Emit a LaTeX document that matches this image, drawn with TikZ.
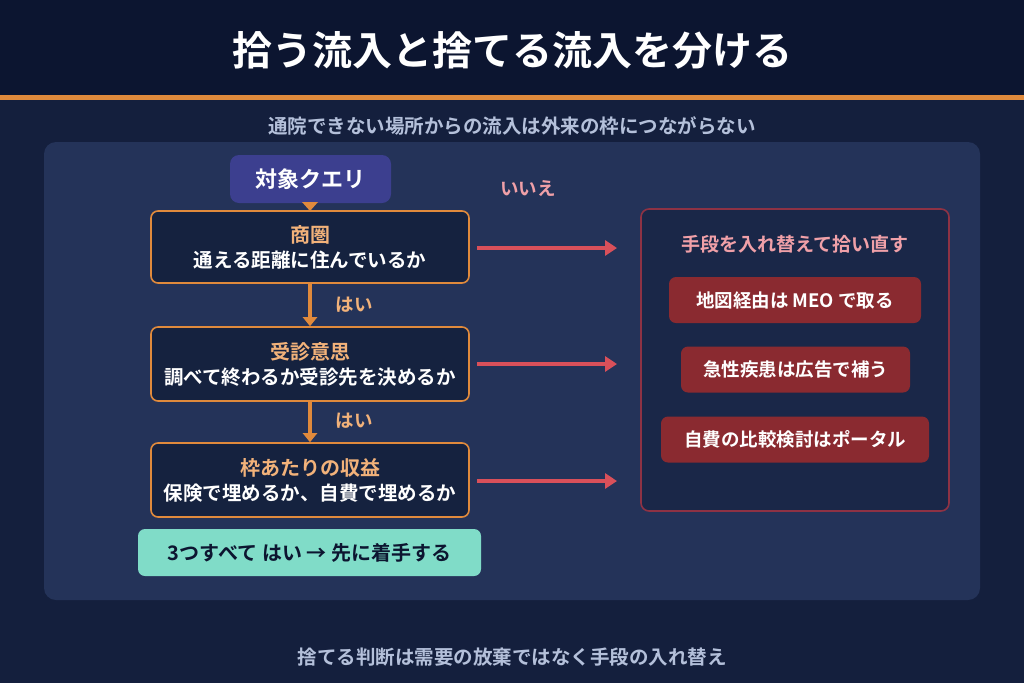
\documentclass[tikz,border=0pt]{standalone}
\usepackage{fontspec}
\setmainfont{Noto Sans CJK JP}[BoldFont={* Bold}]
\usetikzlibrary{arrows.meta}
\definecolor{bgtop}{HTML}{0C1530}
\definecolor{bgmain}{HTML}{141F3D}
\definecolor{panel}{HTML}{243359}
\definecolor{boxf}{HTML}{15223F}
\definecolor{orng}{HTML}{E08A3C}
\definecolor{ornt}{HTML}{F2B27A}
\definecolor{qry}{HTML}{3C3F8F}
\definecolor{redb}{HTML}{8A2A30}
\definecolor{redl}{HTML}{D9505A}
\definecolor{pink}{HTML}{F0A0A8}
\definecolor{grn}{HTML}{80DCC8}
\definecolor{sub}{HTML}{B4C0DA}
\definecolor{rbord}{HTML}{8E3244}
\begin{document}
\begin{tikzpicture}[x=1pt,y=-1pt,
 stepbox/.style={draw=orng,line width=1.6pt,fill=boxf,rounded corners=7pt,minimum width=318pt,minimum height=72pt,align=center,text=white,font=\fontsize{19.5}{25}\selectfont\bfseries},
 btn/.style={fill=redb,rounded corners=7pt,minimum height=46pt,text=white,font=\fontsize{18.5}{22}\selectfont\bfseries},
 oarr/.style={orng,line width=4pt,-{Triangle[length=9pt,width=14pt]}},
 rarr/.style={redl,line width=4pt,-{Triangle[length=12pt,width=15pt]}},
 lbl/.style={font=\fontsize{18.5}{22}\selectfont\bfseries}]
\fill[bgmain] (0,0) rectangle (1024,683);
\fill[bgtop] (0,0) rectangle (1024,95);
\fill[orng] (0,95) rectangle (1024,100);
\node[text=white,font=\fontsize{40}{44}\selectfont\bfseries] (title) at (512,50) {拾う流入と捨てる流入を分ける};
\node[text=sub,font=\fontsize{19.5}{24}\selectfont\bfseries] (subt) at (512,126) {通院できない場所からの流入は外来の枠につながらない};
\fill[panel,rounded corners=12pt] (44,142) rectangle (980,600);
\node[fill=qry,rounded corners=9pt,minimum width=161pt,minimum height=48pt,text=white,font=\fontsize{22}{24}\selectfont\bfseries] (q) at (310.5,179) {対象クエリ};
\node[stepbox] (s1) at (310,247) {{\color{ornt}\fontsize{20}{25}\selectfont 商圏}\\通える距離に住んでいるか};
\node[stepbox,minimum height=74pt] (s2) at (310,364) {{\color{ornt}\fontsize{20}{25}\selectfont 受診意思}\\調べて終わるか受診先を決めるか};
\node[stepbox,minimum height=74pt] (s3) at (310,480) {{\color{ornt}\fontsize{20}{25}\selectfont 枠あたりの収益}\\保険で埋めるか、自費で埋めるか};
\node[fill=grn,rounded corners=7pt,minimum width=343pt,minimum height=47pt,text=bgtop,font=\fontsize{20}{22}\selectfont\bfseries] (g) at (309.5,552.5) {3つすべて はい → 先に着手する};
\fill[orng] (302,202) -- (318,202) -- (310,211) -- cycle;
\draw[oarr] (s1.south) -- (s2.north);
\draw[oarr] (s2.south) -- (s3.north);
\node[lbl,text=ornt] (h1) at (354,305) {はい};
\node[lbl,text=ornt] (h2) at (354,421) {はい};
\node[lbl,text=pink] (no) at (528,189) {いいえ};
\draw[rbord,line width=1.6pt,fill=bgmain!60!panel,rounded corners=8pt] (641,209) rectangle (949,511);
\node[text=pink,font=\fontsize{19}{22}\selectfont\bfseries] (rt) at (795,244) {手段を入れ替えて拾い直す};
\node[btn,minimum width=252pt] (b1) at (795,300) {地図経由は MEO で取る};
\node[btn,minimum width=229pt] (b2) at (795.5,369.5) {急性疾患は広告で補う};
\node[btn,minimum width=268pt] (b3) at (795,439.5) {自費の比較検討はポータル};
\coordinate (e1) at (617,248); \coordinate (e2) at (617,364); \coordinate (e3) at (617,481);
\draw[rarr] (477,248) -- (e1);
\draw[rarr] (477,364) -- (e2);
\draw[rarr] (477,481) -- (e3);
\node[text=sub,font=\fontsize{19.5}{24}\selectfont\bfseries] (ft) at (512,657) {捨てる判断は需要の放棄ではなく手段の入れ替え};
\end{tikzpicture}
\end{document}
